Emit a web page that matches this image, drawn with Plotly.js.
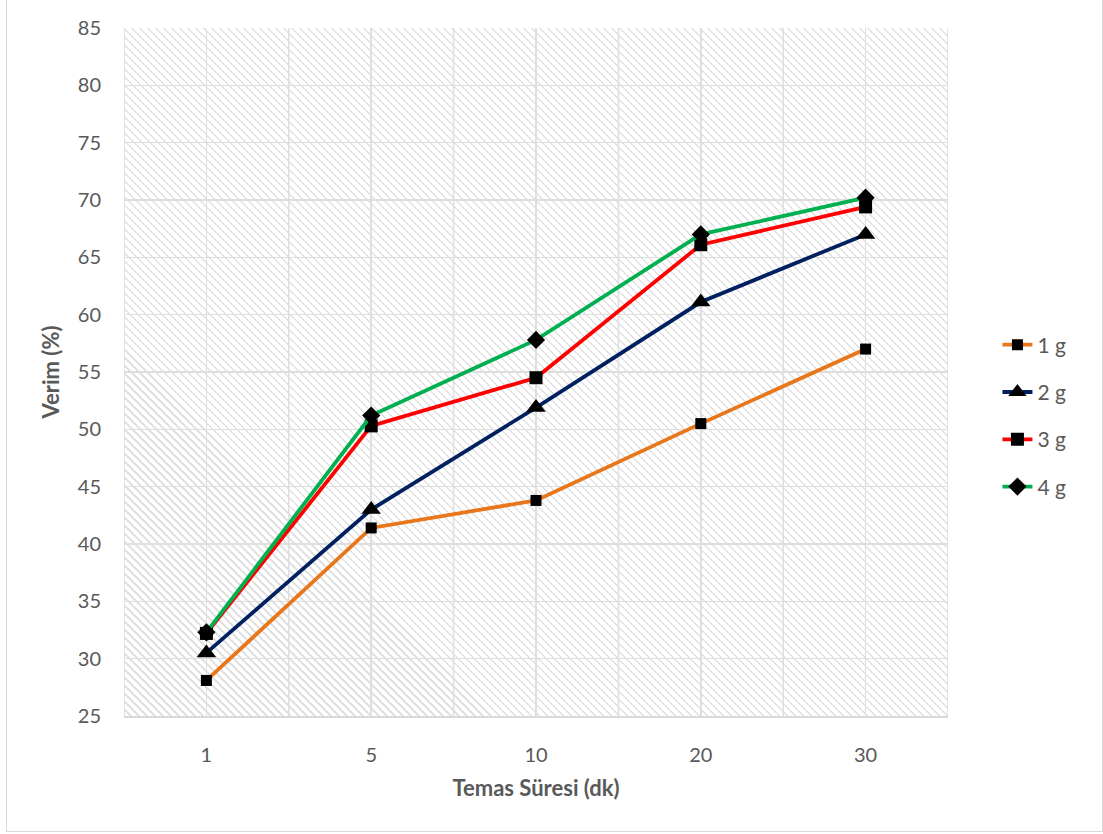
<!DOCTYPE html>
<html>
<head>
<meta charset="utf-8">
<script src="https://cdn.plot.ly/plotly-3.0.1.min.js"></script>
<style>
  html, body { margin: 0; padding: 0; background: #ffffff; }
  #wrap { position: relative; width: 1103px; height: 834px; overflow: hidden; }
  /* hatched plot-area fill sits underneath the transparent plot */
  #hatch {
    position: absolute; left: 124px; top: 28px; width: 824px; height: 688px;
    background: repeating-linear-gradient(45deg, #ffffff 0px, #ffffff 4.1px, #e2e2e2 4.1px, #e2e2e2 5.66px);
  }
  #frame {
    position: absolute; left: 6px; top: -1px; width: 1095px; height: 831px;
    border: 1px solid #d9d9d9; pointer-events: none;
  }
  #chart { position: absolute; left: 0; top: 0; width: 1103px; height: 834px; }
</style>
</head>
<body>
<div id="wrap">
  <div id="hatch"></div>
  <div id="chart"></div>
  <div id="frame"></div>
</div>
<script>
// Contact time (minutes) and yield (%) per adsorbent dose
const categories = ['1', '5', '10', '20', '30'];
const seriesNames = ['1 g', '2 g', '3 g', '4 g'];
const yield1g = [28.1, 41.4, 43.8, 50.5, 57.0];
const yield2g = [30.5, 43.0, 51.9, 61.1, 67.0];
const yield3g = [32.2, 50.3, 54.5, 66.1, 69.4];
const yield4g = [32.3, 51.2, 57.8, 67.0, 70.2];
const yTickVals = [25, 30, 35, 40, 45, 50, 55, 60, 65, 70, 75, 80, 85];

const styles = [
  { color: '#E8761B', symbol: 'square', size: 11 },
  { color: '#002060', symbol: 'triangle-up', size: 17 },
  { color: '#FF0000', symbol: 'square', size: 13 },
  { color: '#00B050', symbol: 'diamond', size: 14 }
];
const allSeries = [yield1g, yield2g, yield3g, yield4g];

const traces = allSeries.map((vals, i) => ({
  type: 'scatter',
  mode: 'lines+markers',
  name: seriesNames[i],
  legendgroup: 'g' + i,
  x: categories,
  y: vals,
  line: { color: styles[i].color, width: 3.8 },
  marker: { color: '#000000', symbol: styles[i].symbol, size: styles[i].size, line: { width: 0 } }
}));

// boundary gridlines between categories (centre gridlines come from the axis)
const gridColor = '#dedede';
const shapes = [];
for (let i = 0; i <= categories.length; i++) {
  shapes.push({
    type: 'line', xref: 'x', yref: 'paper',
    x0: i - 0.5, x1: i - 0.5, y0: 0, y1: 1,
    line: { color: gridColor, width: 1.5 }, layer: 'below'
  });
}

const font = "Lato, 'Open Sans', sans-serif";

const layout = {
  width: 1103, height: 834,
  margin: { l: 124, r: 155, t: 28, b: 118 },
  paper_bgcolor: 'rgba(0,0,0,0)',
  plot_bgcolor: 'rgba(0,0,0,0)',
  font: { family: font, color: '#595959', size: 20 },
  showlegend: true,
  legend: {
    x: 1.06, xanchor: 'left', y: 0.436, yanchor: 'middle',
    font: { family: font, size: 21, color: '#595959' },
    traceorder: 'grouped', tracegroupgap: 17,
    bgcolor: 'rgba(0,0,0,0)'
  },
  xaxis: {
    type: 'category',
    categoryorder: 'array', categoryarray: categories,
    range: [-0.5, categories.length - 0.5],
    showgrid: true, gridcolor: gridColor, gridwidth: 1.5,
    zeroline: false,
    showline: true, linecolor: '#d9d9d9', linewidth: 1.5,
    ticks: '', ticklabelstandoff: 20,
    tickfont: { family: font, size: 20, color: '#595959' },
    title: { text: 'Temas Süresi (dk)', standoff: 16,
             font: { family: font, size: 22, color: '#595959', weight: 'bold' } }
  },
  yaxis: {
    range: [25, 85],
    tickvals: yTickVals,
    showgrid: true, gridcolor: gridColor, gridwidth: 1.5,
    zeroline: false, showline: false,
    ticks: '', ticklabelstandoff: 22,
    tickfont: { family: font, size: 20, color: '#595959' },
    title: { text: 'Verim (%)', standoff: 12,
             font: { family: font, size: 22, color: '#595959', weight: 'bold' } }
  },
  shapes: shapes
};

Plotly.newPlot('chart', traces, layout, { displayModeBar: false, staticPlot: true });
</script>
</body>
</html>
